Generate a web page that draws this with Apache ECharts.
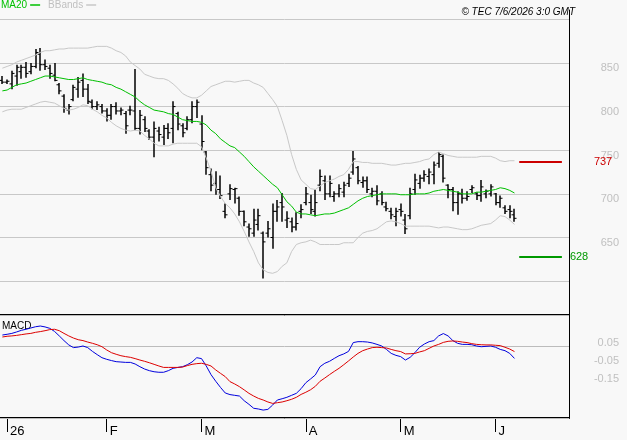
<!DOCTYPE html>
<html>
<head>
<meta charset="utf-8">
<script src="https://cdn.jsdelivr.net/npm/echarts@6.0.0/dist/echarts.min.js"></script>
<style>
    html, body { margin: 0; padding: 0; background: #f8f8f8; }
    #chart { width: 627px; height: 440px; }
</style>
</head>
<body>
<div id="chart"></div>
<script>
// month tick labels and number of trading days per month (Dec 31 first)
var monthLabels = ['', '26', 'F', 'M', 'A', 'M', 'J'];
var monthDays = [1, 21, 20, 22, 20, 20, 5];
var slotCount = 120;

var opens = [
    830,828,826,835,840,845,840,846,860,848,
    844,836,825,812,796,808,820,830,820,805,
    800,800,795,790,800,795,792,796,795,775,
    785,772,765,772,765,775,775,792,778,775,
    785,800,780,748,722,712,705,680,700,705,
    695,680,662,655,665,655,655,650,680,690,
    670,668,662,680,690,690,680,710,715,700,
    697,700,702,712,725,730,713,715,700,703,
    700,685,680,674,682,670,675,705,712,718,
    720,722,735,743,710,705,690,700,695,705,
    700,698,700,700,700,690,684,682,676
];
var highs = [
    835,831,841,848,848,851,850,866,867,854,
    848,850,827,814,803,825,834,838,826,808,
    806,803,798,803,805,799,795,801,843,796,
    789,774,783,777,779,781,806,794,781,789,
    806,808,790,749,729,726,721,689,711,707,
    697,681,666,683,683,657,669,689,693,701,
    680,673,679,688,708,699,705,728,721,721,
    703,711,714,723,749,732,720,720,707,710,
    703,691,684,684,689,677,707,723,722,727,
    729,737,748,745,711,708,703,706,703,710,
    702,716,705,711,701,698,687,687,683
];
var lows = [
    826,826,820,824,832,833,837,844,841,842,
    832,829,814,793,791,806,810,811,803,797,
    796,792,783,785,791,790,769,790,773,768,
    771,762,742,760,756,763,758,773,765,773,
    781,787,750,722,703,699,694,672,693,689,
    675,663,651,651,658,603,650,637,668,668,
    661,656,658,672,687,677,674,703,693,696,
    691,696,696,708,722,711,707,701,696,687,
    687,680,671,663,674,654,671,699,706,714,
    711,711,730,713,695,680,676,689,692,701,
    693,691,695,697,687,684,677,672,668
];
var closes = [
    828,829,838,845,845,838,846,862,848,846,
    838,830,818,798,800,822,828,820,806,800,
    802,795,790,800,795,796,778,796,775,790,
    775,765,775,768,775,770,800,780,770,785,
    800,805,760,730,710,705,698,676,706,706,
    680,668,660,670,675,645,660,680,685,685,
    672,662,666,682,700,682,690,720,700,712,
    700,706,710,718,740,715,715,705,703,692,
    690,683,676,680,680,660,700,716,718,722,
    725,733,745,718,705,690,700,695,697,707,
    698,708,703,708,690,695,680,680,672
];
var ma20 = [
    818,819,822,825,826,827,829,831,833,835,
    835,834,833,832,831,831,832,833,831,830,
    829,828,826,825,822,820,817,814,811,806,
    802,799,796,795,794,792,791,788,785,784,
    783,783,782,779,773,769,763,759,755,753,
    748,743,737,731,726,721,716,711,707,699,
    691,686,679,677,677,676,675,676,677,677,
    678,680,682,684,688,692,695,697,698,699,
    700,700,700,700,699,699,699,700,700,700,
    701,703,704,705,704,703,702,700,700,700,
    702,702,703,704,705,707,706,704,701
];
var bbUpper = [
    844,846,848,851,853,855,857,859,862,864,
    864,865,866,866,867,867,867,867,867,868,
    869,869,869,867,864,862,858,851,847,843,
    837,835,833,832,832,830,826,821,815,812,
    810,810,813,818,823,825,827,829,829,828,
    829,830,830,827,825,822,815,808,800,784,
    767,745,728,716,711,706,705,709,713,715,
    717,720,722,728,737,737,736,736,735,735,
    735,734,733,733,734,735,735,736,737,739,
    740,745,748,746,744,743,742,742,742,742,
    742,743,743,743,741,738,737,738,738
];
var bbLower = [
    794,796,797,797,797,799,801,803,805,806,
    805,804,801,798,796,797,799,802,801,797,
    794,790,787,782,778,775,773,772,773,772,
    767,763,758,755,755,755,757,758,758,758,
    758,758,754,741,726,707,697,689,684,677,
    668,657,645,634,621,613,610,609,611,617,
    621,634,642,644,645,647,645,642,642,642,
    642,642,644,644,644,650,655,657,658,660,
    664,668,669,668,666,663,663,663,663,663,
    663,662,661,662,662,661,660,659,659,660,
    662,664,665,666,670,675,674,670,665
];
var macd = [
    0.061,0.065,0.070,0.078,0.087,0.093,0.100,0.107,0.111,0.106,
    0.098,0.081,0.056,0.030,0.006,-0.009,-0.006,0.000,-0.009,-0.030,
    -0.048,-0.065,-0.074,-0.081,-0.087,-0.089,-0.091,-0.091,-0.100,-0.115,
    -0.128,-0.137,-0.143,-0.146,-0.146,-0.137,-0.124,-0.119,-0.115,-0.104,
    -0.089,-0.065,-0.070,-0.111,-0.159,-0.196,-0.230,-0.261,-0.270,-0.274,
    -0.278,-0.304,-0.324,-0.346,-0.350,-0.356,-0.352,-0.328,-0.300,-0.293,
    -0.285,-0.274,-0.263,-0.237,-0.204,-0.183,-0.161,-0.115,-0.096,-0.085,
    -0.069,-0.054,-0.044,-0.030,0.019,0.024,0.024,0.022,0.017,0.009,
    0.000,-0.019,-0.041,-0.052,-0.059,-0.078,-0.063,-0.037,-0.007,0.011,
    0.024,0.030,0.056,0.069,0.056,0.030,0.015,0.009,0.009,0.007,
    0.000,-0.004,-0.002,0.000,-0.007,-0.019,-0.026,-0.041,-0.069
];
var signal = [
    0.050,0.054,0.056,0.059,0.063,0.067,0.070,0.076,0.080,0.085,
    0.091,0.093,0.085,0.070,0.056,0.044,0.035,0.030,0.022,0.015,
    0.007,-0.004,-0.022,-0.037,-0.046,-0.054,-0.059,-0.063,-0.070,-0.078,
    -0.085,-0.093,-0.102,-0.111,-0.119,-0.119,-0.119,-0.119,-0.117,-0.109,
    -0.102,-0.098,-0.096,-0.102,-0.111,-0.133,-0.152,-0.170,-0.198,-0.211,
    -0.226,-0.244,-0.263,-0.278,-0.291,-0.300,-0.311,-0.319,-0.315,-0.311,
    -0.304,-0.296,-0.285,-0.269,-0.257,-0.243,-0.224,-0.196,-0.178,-0.159,
    -0.141,-0.124,-0.104,-0.083,-0.061,-0.041,-0.026,-0.017,-0.009,-0.007,
    -0.009,-0.011,-0.019,-0.026,-0.031,-0.044,-0.043,-0.041,-0.033,-0.026,
    -0.013,0.000,0.009,0.020,0.026,0.028,0.026,0.022,0.019,0.013,
    0.009,0.007,0.006,0.006,0.004,0.002,-0.007,-0.017,-0.031
];
var priceLabels = [650, 700, 750, 800, 850];
var macdLabels = [5, -5, -15]; // hundredths
var resistance = 737, support = 628;

var font = 'Liberation Sans';

// categories: one slot per trading day, padded to the right edge
var categories = [], tickLabels = {};
monthDays.forEach(function (n, m) {
    for (var d = 0; d < n; d++) {
        if (d === 0 && monthLabels[m]) tickLabels[categories.length] = monthLabels[m];
        categories.push('m' + m + 'd' + d);
    }
});
while (categories.length < slotCount) categories.push('pad' + categories.length);

var bars = highs.map(function (h, i) {
    return [i, opens[i], highs[i], lows[i], closes[i]];
});

function renderBar(params, api) {
    var top = api.coord([api.value(0), api.value(2)]);
    var lo = api.coord([api.value(0), api.value(3)])[1];
    var op = api.coord([api.value(0), api.value(1)])[1];
    var cl = api.coord([api.value(0), api.value(4)])[1];
    var cx = Math.round(top[0]);
    return {
        type: 'group',
        children: [
            {type: 'line', shape: {x1: cx, y1: top[1], x2: cx, y2: lo}, style: {stroke: '#000', lineWidth: 1.5}},
            {type: 'line', shape: {x1: cx - 2.5, y1: op, x2: cx, y2: op}, style: {stroke: '#000', lineWidth: 1}},
            {type: 'line', shape: {x1: cx, y1: cl, x2: cx + 2.5, y2: cl}, style: {stroke: '#000', lineWidth: 1}}
        ]
    };
}

var myChart = echarts.init(document.getElementById('chart'));

var option = {
    animation: false,
    backgroundColor: '#f8f8f8',
    textStyle: {fontFamily: font},
    title: [
        {
            text: '© TEC 7/6/2026 3:0 GMT',
            right: 52, top: 7, padding: 0,
            textStyle: {fontSize: 10, fontStyle: 'italic', fontWeight: 'normal', color: '#000', fontFamily: font}
        },
        {
            text: 'MACD',
            left: 2, top: 321, padding: 0,
            textStyle: {fontSize: 10, fontWeight: 'normal', color: '#000', fontFamily: font}
        }
    ],
    legend: {
        left: 1, top: 0, padding: 0,
        align: 'right',
        icon: 'rect',
        itemWidth: 10, itemHeight: 1.5, itemGap: 8,
        selectedMode: false,
        textStyle: {fontSize: 10, fontFamily: font, padding: [0, -2, 0, 0]},
        data: [
            {name: 'MA20', textStyle: {color: '#00c000'}},
            {name: 'BBands', textStyle: {color: '#c0c0c0'}}
        ]
    },
    grid: [
        {left: 0, right: 58, top: 10, height: 314.8},
        {left: 0, right: 58, top: 315, height: 103}
    ],
    xAxis: [
        {gridIndex: 0, type: 'category', data: categories, boundaryGap: true, show: false},
        {
            gridIndex: 1, type: 'category', data: categories, boundaryGap: true, position: 'bottom',
            axisLine: {show: true, onZero: false, lineStyle: {color: '#000', width: 2}},
            axisTick: {
                show: true, alignWithLabel: true, length: 14, inside: false,
                interval: function (index) { return !!tickLabels[index]; },
                lineStyle: {color: '#000', width: 1}
            },
            axisLabel: {
                show: true,
                interval: function (index) { return !!tickLabels[index]; },
                formatter: function (v, index) { return tickLabels[index] || ''; },
                align: 'left', margin: 7, padding: [0, 0, 0, 3],
                color: '#000', fontSize: 13, fontFamily: font
            },
            splitLine: {show: false}
        },
        {
            gridIndex: 1, type: 'category', data: categories, boundaryGap: true, position: 'top',
            axisLine: {show: true, onZero: false, lineStyle: {color: '#000', width: 2}},
            axisTick: {show: false}, axisLabel: {show: false}, splitLine: {show: false}
        }
    ],
    yAxis: [
        {
            gridIndex: 0, type: 'value', position: 'right',
            min: 550, max: 910.66, interval: 50,
            axisLine: {show: true, onZero: false, lineStyle: {color: '#000', width: 1}},
            axisTick: {show: false},
            splitLine: {show: true, showMinLine: false, showMaxLine: false, lineStyle: {color: '#c8c8c8', width: 1}},
            axisLabel: {
                formatter: function (v) { return priceLabels.indexOf(Math.round(v)) >= 0 ? String(Math.round(v)) : ''; },
                color: '#c0c0c0', fontSize: 11, fontFamily: font,
                align: 'right', margin: 50, verticalAlign: 'top'
            }
        },
        {
            gridIndex: 1, type: 'value', position: 'right',
            min: -0.4, max: 0.1722, interval: 0.05,
            axisLine: {show: true, onZero: false, lineStyle: {color: '#000', width: 1}},
            axisTick: {show: false},
            splitLine: {show: false},
            axisLabel: {
                formatter: function (v) {
                    var h = Math.round(v * 100);
                    return macdLabels.indexOf(h) >= 0 ? (h / 100).toFixed(2) : '';
                },
                color: '#c0c0c0', fontSize: 11, fontFamily: font,
                align: 'right', margin: 50, verticalAlign: 'top'
            }
        },
        {
            // zero gridline of the MACD panel (edge lines sit under the black borders)
            gridIndex: 1, type: 'value', position: 'right', z: 10,
            min: -0.4, max: 0.1722, interval: 0.4,
            axisLine: {show: false}, axisTick: {show: false}, axisLabel: {show: false},
            splitLine: {show: true, lineStyle: {color: '#bcbcbc', width: 1}}
        }
    ],
    series: [
        {
            name: 'BBands', type: 'line', xAxisIndex: 0, yAxisIndex: 0,
            data: bbUpper, showSymbol: false, color: '#c8c8c8',
            lineStyle: {color: '#c8c8c8', width: 1}, silent: true
        },
        {
            name: 'BBands', type: 'line', xAxisIndex: 0, yAxisIndex: 0,
            data: bbLower, showSymbol: false, color: '#c8c8c8',
            lineStyle: {color: '#c8c8c8', width: 1}, silent: true
        },
        {
            name: 'MA20', type: 'line', xAxisIndex: 0, yAxisIndex: 0,
            data: ma20, showSymbol: false, color: '#00c000',
            lineStyle: {color: '#00c000', width: 1}, silent: true,
            markLine: {
                silent: true, symbol: ['none', 'none'], animation: false,
                data: [
                    [
                        {coord: [categories[109], resistance], lineStyle: {color: '#cc0000', width: 2, type: 'solid'},
                         label: {show: true, position: 'end', distance: 32, formatter: String(resistance), color: '#cc0000', fontSize: 11, fontFamily: font}},
                        {coord: [categories[118], resistance]}
                    ],
                    [
                        {coord: [categories[109], support], lineStyle: {color: '#009900', width: 2, type: 'solid'},
                         label: {show: true, position: 'end', distance: 8, formatter: String(support), color: '#009900', fontSize: 11, fontFamily: font}},
                        {coord: [categories[118], support]}
                    ]
                ]
            }
        },
        {
            name: 'Price', type: 'custom', xAxisIndex: 0, yAxisIndex: 0,
            data: bars, renderItem: renderBar,
            encode: {x: 0, y: [1, 2, 3, 4]}, silent: true
        },
        {
            name: 'MACD', type: 'line', xAxisIndex: 1, yAxisIndex: 1, z: 12,
            data: macd, showSymbol: false, color: '#0000dd',
            lineStyle: {color: '#0000dd', width: 1}, silent: true
        },
        {
            name: 'Signal', type: 'line', xAxisIndex: 1, yAxisIndex: 1, z: 12,
            data: signal, showSymbol: false, color: '#dd0000',
            lineStyle: {color: '#dd0000', width: 1}, silent: true
        }
    ]
};

myChart.setOption(option);
</script>
</body>
</html>
